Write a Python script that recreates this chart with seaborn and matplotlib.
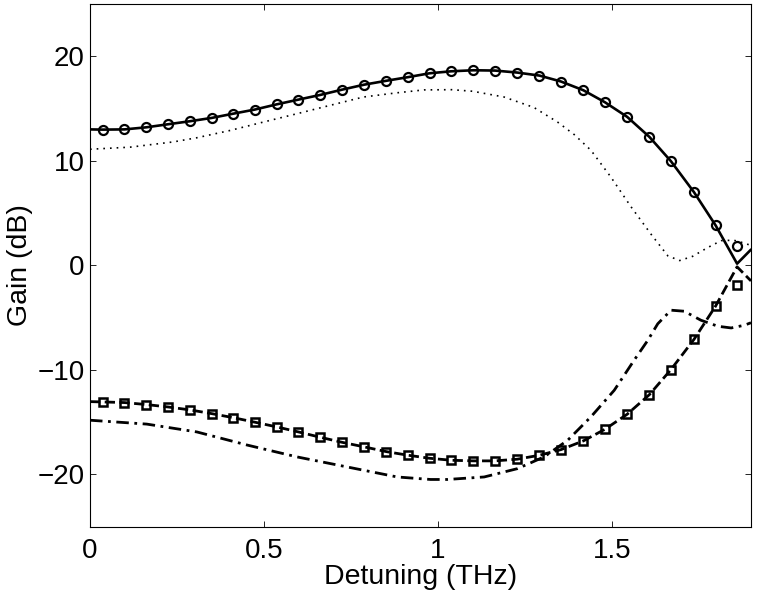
import numpy as np
import pandas as pd
import matplotlib
matplotlib.use("Agg")
import matplotlib.pyplot as plt
import seaborn as sns

# marker positions (THz) shared by the circle and square series
det_marks = [0.036, 0.099, 0.162, 0.224, 0.287, 0.350, 0.411, 0.474, 0.537, 0.599,
             0.662, 0.724, 0.788, 0.851, 0.914, 0.976, 1.038, 1.102, 1.164, 1.228,
             1.292, 1.354, 1.418, 1.480, 1.544, 1.608, 1.670, 1.736, 1.798, 1.860]
gain_circ = [12.98, 13.0, 13.2, 13.49, 13.78, 14.1, 14.5, 14.9, 15.4, 15.85,
             16.3, 16.8, 17.28, 17.65, 18.0, 18.37, 18.56, 18.66, 18.63, 18.44,
             18.15, 17.58, 16.75, 15.6, 14.2, 12.28, 9.95, 7.0, 3.83, 1.85]
gain_sq = [-13.08, -13.14, -13.33, -13.56, -13.84, -14.2, -14.58, -15.02, -15.47, -15.95,
           -16.46, -16.94, -17.38, -17.83, -18.18, -18.47, -18.66, -18.72, -18.72, -18.56,
           -18.18, -17.64, -16.81, -15.7, -14.26, -12.38, -9.98, -7.1, -3.92, -1.91]

# solid curve (signal)
det_solid = [0.0, 0.036, 0.099, 0.162, 0.224, 0.287, 0.350, 0.411, 0.474, 0.537, 0.599,
             0.662, 0.724, 0.788, 0.851, 0.914, 0.976, 1.038, 1.102, 1.164, 1.228,
             1.292, 1.354, 1.418, 1.480, 1.544, 1.608, 1.670, 1.736, 1.798, 1.860, 1.9]
gain_solid = [13.0, 12.98, 13.0, 13.2, 13.49, 13.78, 14.1, 14.5, 14.9, 15.4, 15.85,
              16.3, 16.8, 17.28, 17.65, 18.0, 18.37, 18.56, 18.66, 18.63, 18.44,
              18.15, 17.58, 16.75, 15.6, 14.2, 12.28, 9.95, 7.0, 3.83, 0.15, 1.5]

# dashed curve (idler)
det_dash = det_solid
gain_dash = [-13.05, -13.08, -13.14, -13.33, -13.56, -13.84, -14.2, -14.58, -15.02, -15.47, -15.95,
             -16.46, -16.94, -17.38, -17.83, -18.18, -18.47, -18.66, -18.72, -18.72, -18.56,
             -18.18, -17.64, -16.81, -15.7, -14.26, -12.38, -9.98, -7.1, -3.92, -0.15, -1.5]

# dotted curve
det_dot = [0.0, 0.115, 0.239, 0.307, 0.403, 0.498, 0.595, 0.690, 0.786, 0.882,
           0.960, 1.040, 1.100, 1.190, 1.276, 1.344, 1.392, 1.440, 1.497, 1.555,
           1.612, 1.661, 1.695, 1.732, 1.776, 1.814, 1.850, 1.872, 1.900]
gain_dot = [11.1, 11.3, 11.8, 12.2, 12.9, 13.7, 14.5, 15.3, 16.1, 16.5,
            16.78, 16.8, 16.65, 16.1, 15.1, 13.7, 12.5, 11.0, 8.45, 5.6,
            3.0, 0.9, 0.45, 0.85, 1.7, 2.35, 2.4, 2.2, 1.9]

# dash-dot curve
det_dd = [0.0, 0.163, 0.307, 0.451, 0.595, 0.739, 0.883, 0.979, 1.027, 1.133,
          1.229, 1.305, 1.373, 1.440, 1.507, 1.564, 1.603, 1.632, 1.670, 1.708,
          1.756, 1.805, 1.843, 1.881, 1.900]
gain_dd = [-14.83, -15.2, -15.95, -17.2, -18.34, -19.3, -20.26, -20.5, -20.5, -20.26,
           -19.46, -18.34, -16.75, -14.5, -11.96, -9.09, -7.2, -5.6, -4.3, -4.4,
           -5.26, -5.84, -6.0, -5.74, -5.5]

xticks = [0, 0.5, 1, 1.5]
xtick_labels = ["0", "0.5", "1", "1.5"]
yticks = [-20, -10, 0, 10, 20]

sns.set_style("ticks")
plt.rcParams["font.family"] = ["Liberation Sans", "DejaVu Sans"]
plt.rcParams.update({
    "xtick.direction": "in", "ytick.direction": "in",
    "xtick.top": True, "ytick.right": True,
    "xtick.major.size": 4.3, "ytick.major.size": 4.3,
    "xtick.major.width": 0.6, "ytick.major.width": 0.6,
    "axes.linewidth": 0.8, "axes.edgecolor": "black",
    "text.color": "black", "axes.labelcolor": "black",
    "xtick.color": "black", "ytick.color": "black",
})

fig = plt.figure(figsize=(7.61, 5.94), dpi=100)
ax = fig.add_axes([90 / 761, 67.5 / 594, 661 / 761, 522.5 / 594])

sns.lineplot(x=det_dot, y=gain_dot, ax=ax, color="k", lw=1.2,
             linestyle=(0, (1, 3)), estimator=None, sort=False)
sns.lineplot(x=det_dd, y=gain_dd, ax=ax, color="k", lw=2,
             linestyle=(0, (4.5, 2, 1, 2)), estimator=None, sort=False)
sns.lineplot(x=det_solid, y=gain_solid, ax=ax, color="k", lw=1.9,
             estimator=None, sort=False)
sns.lineplot(x=det_dash, y=gain_dash, ax=ax, color="k", lw=2,
             linestyle="--", estimator=None, sort=False)
sns.lineplot(x=det_marks, y=gain_circ, ax=ax, color="k", linestyle="none",
             marker="o", ms=6.5, mfc="none", mec="k", mew=1.6,
             estimator=None, sort=False)
sns.lineplot(x=det_marks, y=gain_sq, ax=ax, color="k", linestyle="none",
             marker="s", ms=5.6, mfc="none", mec="k", mew=1.8,
             estimator=None, sort=False)

ax.set_xlim(0, 1.9)
ax.set_ylim(-25, 25)
ax.set_xticks(xticks)
ax.set_xticklabels(xtick_labels)
ax.set_yticks(yticks)
ax.tick_params(axis="x", labelsize=20, pad=8)
ax.tick_params(axis="y", labelsize=20, pad=4)
ax.set_xlabel("Detuning (THz)", fontsize=20.5, labelpad=0)
ax.set_ylabel("Gain (dB)", fontsize=20.5, labelpad=3)
for s in ax.spines.values():
    s.set_visible(True)

fig.savefig("out.png", dpi=100)
